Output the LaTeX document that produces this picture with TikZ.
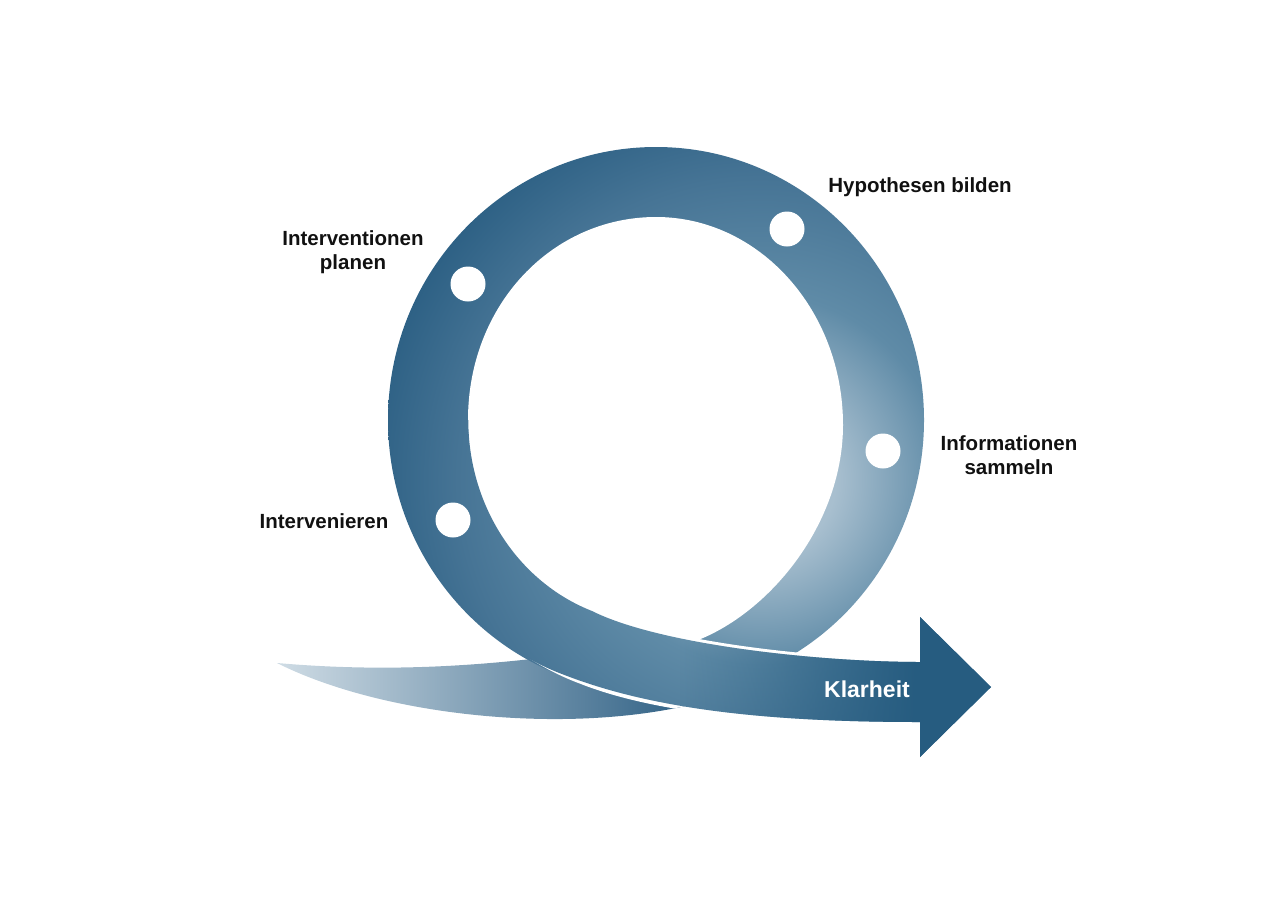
\documentclass[tikz,border=0pt]{standalone}
\usepackage{fontspec}
\setmainfont{Liberation Sans}
\usetikzlibrary{fadings}
\definecolor{ringlight}{RGB}{168,191,207}
\definecolor{ringmid}{RGB}{95,139,167}
\definecolor{ringdeep}{RGB}{70,116,149}
\definecolor{ringdark}{RGB}{37,90,127}
\definecolor{arrowblue}{RGB}{38,92,128}
\definecolor{taillight}{RGB}{207,220,229}
\definecolor{taildark}{RGB}{48,97,133}
\definecolor{labeltext}{RGB}{17,17,17}
\pgfdeclareradialshading{ringshade}{\pgfpoint{0bp}{0bp}}{color(0bp)=(ringlight); color(4.5bp)=(ringlight); color(11bp)=(ringmid); color(18bp)=(ringdeep); color(25bp)=(ringdark); color(50bp)=(ringdark)}
\tikzfading[name=bandfade, left color=transparent!100, right color=transparent!0]
\newcommand{\tailpath}{(277,663) .. controls (380,672) and (480,668) .. (600,650) -- (690,705) .. controls (560,735) and (380,715) .. (277,663) -- cycle}
\newcommand{\bandpath}{(389.5,420) arc[start angle=180, end angle=110, x radius=266.5, y radius=271.5] .. controls (650,708) and (760,722) .. (920,722) -- (920,757) -- (991,687) -- (920,617) -- (920,662) .. controls (820,662) and (660,645) .. (592,611) arc[start angle=110, end angle=180, x radius=188, y radius=203]}

\begin{document}
\begin{tikzpicture}[x=1pt, y=-1pt]
        \tikzstyle{every node}=[font=\fontsize{20.5}{24.5}\selectfont\bfseries, text=labeltext]
        \tikzstyle{dot}=[circle, fill=white, minimum size=35pt, inner sep=0pt]
        \tikzstyle{gap}=[draw=white, line width=6pt]
        \useasboundingbox (0,0) rectangle (1281,905);
        \shade[left color=taillight, right color=taildark] \tailpath;
        \begin{scope}
            \clip (656,420) ellipse [x radius=268, y radius=273];
            \shade[shading=ringshade] (760,480) circle (420);
        \end{scope}
        \fill[white] (656,217) .. controls (759,217) and (843,310) .. (843,425) .. controls (843,545) and (735,650) .. (650,650) .. controls (540,650) and (468,540) .. (468,420) .. controls (468,305) and (552,217) .. (656,217) -- cycle;
        \begin{scope}
            \clip \tailpath;
            \draw[gap] (468,600) arc[start angle=140, end angle=110, x radius=268, y radius=273] .. controls (650,708) and (760,722) .. (920,722);
        \end{scope}
        \draw[gap] (920,662) .. controls (820,662) and (660,645) .. (592,611);
        \begin{scope}
            \clip \bandpath;
            \shade[shading=ringshade] (760,480) circle (420);
            \fill[arrowblue, path fading=bandfade] (680,600) rectangle (918,770);
            \fill[arrowblue] (918,600) rectangle (1000,770);
        \end{scope}
        \node[dot] (dplan) at (468,284) {};
        \node[dot] (dinterv) at (453,520) {};
        \node[dot] (dhypo) at (787,229) {};
        \node[dot] (dinfo) at (883,451) {};
        \node[anchor=base] (hypo) at (920,192) {Hypothesen bilden};
        \node[align=center] (plan) at (353,252) {Interventionen\\planen};
        \node[anchor=base] (interv) at (324,528) {Intervenieren};
        \node[align=center] (info) at (1009,455) {Informationen\\sammeln};
        \node[anchor=base, text=white, font=\fontsize{23}{27}\selectfont\bfseries] (klar) at (867,697) {Klarheit};
    \end{tikzpicture}
\end{document}
